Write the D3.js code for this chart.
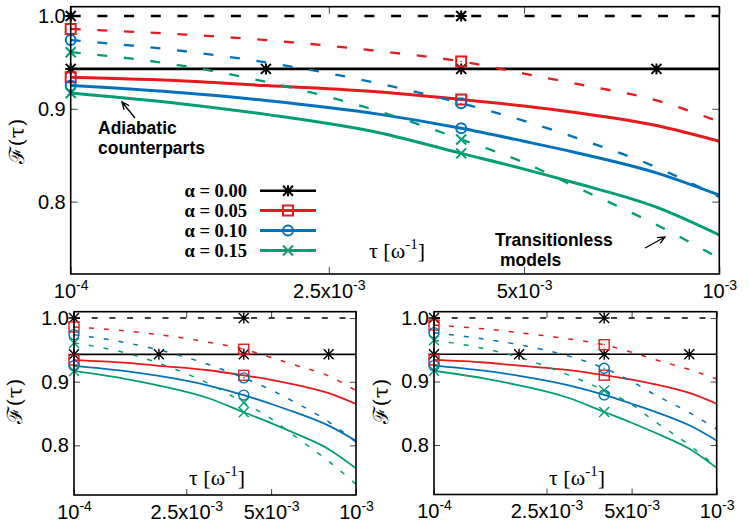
<!DOCTYPE html>
<html>
<head>
<meta charset="utf-8">
<script src="https://cdn.jsdelivr.net/npm/d3@7"></script>
<style>
  body { margin: 0; background: #fff; }
  svg { display: block; }
</style>
</head>
<body>
<div id="chart"></div>
<script>
// tau grid [omega^-1]
const tau = [1e-4, 1.5e-4, 2e-4, 3e-4, 4e-4, 5e-4, 6e-4, 8e-4, 1e-3];

// x ticks (log axis) and their printed labels
const xTicks = [1e-4, 2.5e-4, 5e-4, 1e-3];
const xTickBase = ['10', '2.5x10', '5x10', '10'];
const xTickExp = ['-4', '-3', '-3', '-3'];
const yTicks = [0.8, 0.9, 1.0];

const alphaLabels = ['α = 0.00', 'α = 0.05', 'α = 0.10', 'α = 0.15'];
const colors = ['#000000', '#e41a1c', '#0072bd', '#009e73'];
const markerTypes = ['star', 'square', 'circle', 'cross'];

// adiabatic counterparts (solid)
const fAd000 = [0.943, 0.943, 0.943, 0.943, 0.943, 0.943, 0.943, 0.943, 0.943];
const fAd005 = [0.934, 0.930, 0.925, 0.918, 0.910, 0.903, 0.896, 0.882, 0.865];
const fAd010 = [0.925, 0.917, 0.909, 0.894, 0.879, 0.865, 0.853, 0.831, 0.807];
const fAd015 = [0.917, 0.905, 0.894, 0.874, 0.852, 0.835, 0.820, 0.794, 0.764];

// transitionless models (dashed) - top and bottom left
const fTl000 = [1.0, 1.0, 1.0, 1.0, 1.0, 1.0, 1.0, 1.0, 1.0];
const fTl005 = [0.986, 0.980, 0.974, 0.962, 0.951, 0.938, 0.927, 0.909, 0.886];
const fTl010 = [0.974, 0.962, 0.950, 0.927, 0.906, 0.887, 0.869, 0.837, 0.805];
const fTl015 = [0.961, 0.946, 0.929, 0.897, 0.867, 0.842, 0.816, 0.775, 0.739];

// transitionless models (dashed) - bottom right
const fTlB005 = [0.989, 0.983, 0.977, 0.967, 0.958, 0.946, 0.935, 0.919, 0.904];
const fTlB010 = [0.977, 0.967, 0.958, 0.940, 0.921, 0.900, 0.880, 0.851, 0.825];
const fTlB015 = [0.965, 0.952, 0.938, 0.910, 0.886, 0.864, 0.838, 0.800, 0.765];

// where the point symbols sit
const markTauBlackSolid = [1e-4, 2e-4, 4e-4, 8e-4];
const markTau = [1e-4, 4e-4];

const svg = d3.select('#chart').append('svg')
    .attr('width', 750)
    .attr('height', 525);

const tickFont = '"Liberation Sans", Arial, Helvetica, sans-serif';
const serifFont = '"Liberation Serif", "Times New Roman", serif';

const panels = [
    { id: 'top', left: 70.7, top: 6.7, width: 648.6, height: 267.3,
      dashed: [fTl000, fTl005, fTl010, fTl015],
      solidW: 3, blackW: 2.6, dashW: 2.3, dash: '10,16.7', blackDash: '10,16.7',
      markSize: 5, markW: 2, tickLen: 7, legend: true,
      yLab: [17, 141], tauLabEnd: [425, 258] },
    { id: 'bl', left: 74, top: 311.7, width: 282, height: 183.3,
      dashed: [fTl000, fTl005, fTl010, fTl015],
      solidW: 1.8, blackW: 1.7, dashW: 1.5, dash: '5,10', blackDash: '6,11.7',
      markSize: 5, markW: 1.4, tickLen: 6, legend: false,
      yLab: [15, 401], tauLabEnd: [245, 485] },
    { id: 'br', left: 434, top: 311.7, width: 282.7, height: 182.8,
      dashed: [fTl000, fTlB005, fTlB010, fTlB015],
      solidW: 1.8, blackW: 1.7, dashW: 1.5, dash: '5,10', blackDash: '6,11.7',
      markSize: 5, markW: 1.4, tickLen: 6, legend: false,
      yLab: [381, 401], tauLabEnd: [605, 485] }
];

const solids = [fAd000, fAd005, fAd010, fAd015];

function drawMarker(g, type, cx, cy, s, color, sw) {
    const m = g.append('g')
        .attr('transform', 'translate(' + cx + ',' + cy + ')')
        .attr('stroke', color)
        .attr('stroke-width', sw)
        .attr('fill', 'none');
    if (type === 'star') {
        m.append('path').attr('d', 'M' + (-s) + ',' + (-s) + 'L' + s + ',' + s +
            'M' + (-s) + ',' + s + 'L' + s + ',' + (-s) +
            'M0,' + (-s * 1.1) + 'L0,' + (s * 1.1) +
            'M' + (-s * 1.1) + ',0L' + (s * 1.1) + ',0');
    } else if (type === 'square') {
        m.append('rect').attr('x', -s).attr('y', -s).attr('width', 2 * s).attr('height', 2 * s);
        m.append('circle').attr('r', 0.8).attr('fill', color).attr('stroke', 'none');
    } else if (type === 'circle') {
        m.append('circle').attr('r', s);
        m.append('circle').attr('r', 0.8).attr('fill', color).attr('stroke', 'none');
    } else {
        m.append('path').attr('d', 'M' + (-s) + ',' + (-s) + 'L' + s + ',' + s +
            'M' + (-s) + ',' + s + 'L' + s + ',' + (-s));
    }
}

function arrow(g, x1, y1, x2, y2) {
    const a = Math.atan2(y2 - y1, x2 - x1);
    const L = 8, w = 0.42;
    g.append('path')
        .attr('d', 'M' + x1 + ',' + y1 + 'L' + x2 + ',' + y2 +
            'M' + (x2 - L * Math.cos(a - w)) + ',' + (y2 - L * Math.sin(a - w)) +
            'L' + x2 + ',' + y2 +
            'L' + (x2 - L * Math.cos(a + w)) + ',' + (y2 - L * Math.sin(a + w)))
        .attr('fill', 'none')
        .attr('stroke', '#000')
        .attr('stroke-width', 1.3);
}

panels.forEach((p) => {
    const g = svg.append('g')
        .attr('transform', 'translate(' + p.left + ',' + p.top + ')');

    const x = d3.scaleLog().domain([1e-4, 1e-3]).range([0, p.width]);
    const y = d3.scaleLinear().domain([0.722, 1.01]).range([p.height, 0]);

    g.append('clipPath').attr('id', 'clip-' + p.id)
        .append('rect').attr('width', p.width).attr('height', p.height);

    // ticks (inward, mirrored)
    const bottomAxis = g.append('g')
        .attr('transform', 'translate(0,' + p.height + ')')
        .call(d3.axisBottom(x).tickValues(xTicks).tickSizeInner(-p.tickLen)
            .tickSizeOuter(0).tickPadding(9.5).tickFormat((d, i) => xTickBase[i]));
    bottomAxis.selectAll('text').each(function (d, i) {
        const t = d3.select(this);
        t.text(null);
        t.append('tspan').text(xTickBase[i]);
        t.append('tspan').attr('dy', -8).attr('font-size', 14).text(xTickExp[i]);
    });
    g.append('g')
        .call(d3.axisTop(x).tickValues(xTicks).tickSizeInner(-p.tickLen)
            .tickSizeOuter(0).tickFormat(''));
    g.append('g')
        .call(d3.axisLeft(y).tickValues(yTicks).tickSizeInner(-p.tickLen)
            .tickSizeOuter(0).tickPadding(5).tickFormat(d3.format('.1f')));
    g.append('g')
        .attr('transform', 'translate(' + p.width + ',0)')
        .call(d3.axisRight(y).tickValues(yTicks).tickSizeInner(-p.tickLen)
            .tickSizeOuter(0).tickFormat(''));
    g.selectAll('.domain').remove();
    g.selectAll('.tick line').attr('stroke', '#444').attr('stroke-width', 1);
    g.selectAll('.tick text')
        .attr('font-family', tickFont)
        .attr('font-size', 20)
        .attr('fill', '#000');

    const line = d3.line()
        .x((d) => x(d[0]))
        .y((d) => y(d[1]))
        .curve(d3.curveMonotoneX);

    const lines = g.append('g').attr('clip-path', 'url(#clip-' + p.id + ')');
    const marks = g.append('g');

    for (let i = 0; i < 4; i++) {
        const dashedVals = p.dashed[i];
        const solidVals = solids[i];
        lines.append('path')
            .attr('d', line(tau.map((t, k) => [t, dashedVals[k]])))
            .attr('fill', 'none')
            .attr('stroke', colors[i])
            .attr('stroke-width', p.dashW)
            .attr('stroke-dasharray', i === 0 ? p.blackDash : p.dash);
        lines.append('path')
            .attr('d', line(tau.map((t, k) => [t, solidVals[k]])))
            .attr('fill', 'none')
            .attr('stroke', colors[i])
            .attr('stroke-width', i === 0 ? p.blackW : p.solidW);

        markTau.forEach((t) => {
            const k = tau.indexOf(t);
            drawMarker(marks, markerTypes[i], x(t), y(dashedVals[k]), p.markSize, colors[i], p.markW);
        });
        (i === 0 ? markTauBlackSolid : markTau).forEach((t) => {
            const k = tau.indexOf(t);
            drawMarker(marks, markerTypes[i], x(t), y(solidVals[k]), p.markSize, colors[i], p.markW);
        });
    }

    // frame
    g.append('rect')
        .attr('width', p.width)
        .attr('height', p.height)
        .attr('fill', 'none')
        .attr('stroke', '#000')
        .attr('stroke-width', 1.6);

    // axis labels
    svg.append('text')
        .attr('transform', 'translate(' + p.yLab[0] + ',' + p.yLab[1] + ') rotate(-90)')
        .attr('text-anchor', 'middle')
        .attr('dy', '0.35em')
        .attr('font-family', '"DejaVu Serif", serif')
        .attr('font-size', 21)
        .text('ℱ(τ)');

    const tl = svg.append('text')
        .attr('x', p.tauLabEnd[0])
        .attr('y', p.tauLabEnd[1])
        .attr('text-anchor', 'end')
        .attr('font-family', serifFont)
        .attr('font-size', 22);
    tl.append('tspan').text('τ [ω');
    tl.append('tspan').attr('font-size', 15).attr('dy', -9).text('-1');
    tl.append('tspan').attr('dy', 9).text(']');

    if (p.legend) {
        const legY = [190.7, 210.5, 230.5, 250.5];
        const lg = svg.append('g');
        alphaLabels.forEach((lab, i) => {
            lg.append('text')
                .attr('x', 247)
                .attr('y', legY[i] + 6.5)
                .attr('text-anchor', 'end')
                .attr('font-family', serifFont)
                .attr('font-weight', 'bold')
                .attr('font-size', 18.5)
                .text(lab);
            lg.append('line')
                .attr('x1', 260).attr('x2', 316)
                .attr('y1', legY[i]).attr('y2', legY[i])
                .attr('stroke', colors[i])
                .attr('stroke-width', i === 0 ? p.blackW : p.solidW);
            drawMarker(lg, markerTypes[i], 288, legY[i], p.markSize, colors[i], p.markW);
        });

        const ann = svg.append('g')
            .attr('font-family', tickFont)
            .attr('font-weight', 'bold')
            .attr('font-size', 17.5);
        ann.append('text').attr('x', 98).attr('y', 134).text('Adiabatic');
        ann.append('text').attr('x', 98).attr('y', 154).text('counterparts');
        ann.append('text').attr('x', 495).attr('y', 245.5).text('Transitionless');
        ann.append('text').attr('x', 500).attr('y', 265.5).text('models');
        arrow(svg, 135, 118, 122, 102);
        arrow(svg, 645, 248, 665, 237);
    }
});
</script>
</body>
</html>
